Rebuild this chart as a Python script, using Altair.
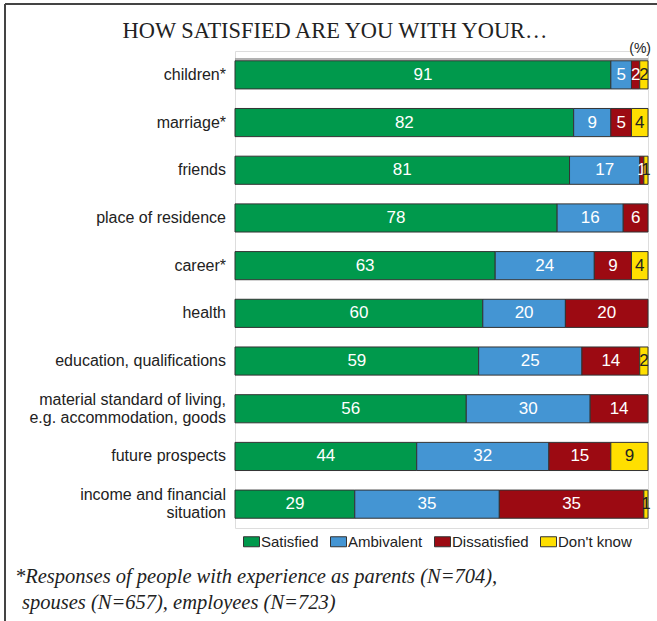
import altair as alt
import pandas as pd

items = [
    "children*",
    "marriage*",
    "friends",
    "place of residence",
    "career*",
    "health",
    "education, qualifications",
    "material standard of living,|e.g. accommodation, goods",
    "future prospects",
    "income and financial|situation",
]
satisfied = [91, 82, 81, 78, 63, 60, 59, 56, 44, 29]
ambivalent = [5, 9, 17, 16, 24, 20, 25, 30, 32, 35]
dissatisfied = [2, 5, 1, 6, 9, 20, 14, 14, 15, 35]
dont_know = [2, 4, 1, 0, 4, 0, 2, 0, 9, 1]

categories = ["Satisfied", "Ambivalent", "Dissatisfied", "Don't know"]
colors = ["#00994C", "#4495D3", "#9C0A12", "#FFDF00"]
title_text = "HOW SATISFIED ARE YOU WITH YOUR\u2026"
foot_line1 = "*Responses of people with experience as parents (N=704),"
foot_line2 = "spouses (N=657), employees (N=723)"

rows = []
for i, it in enumerate(items):
    start = 0
    for cat, vals in zip(categories, [satisfied, ambivalent, dissatisfied, dont_know]):
        v = vals[i]
        if v > 0:
            rows.append({"item": it, "cat": cat, "value": v, "x0": start,
                         "x1": start + v, "mid": start + v / 2,
                         "order": categories.index(cat)})
        start += v
df = pd.DataFrame(rows)
lab_df = pd.DataFrame({"item": items, "multi": ["|" in s for s in items]})

yscale = alt.Scale(paddingInner=0.41, paddingOuter=0.205, domain=items)
ysc = alt.Y("item:N", sort=items, title=None, scale=yscale, axis=None)
xsc = alt.X("x0:Q", scale=alt.Scale(domain=[0, 100]), axis=None)

square = "M-1,-0.625H1V0.625H-1Z"

bars = alt.Chart(df).mark_bar(stroke="#333", strokeWidth=1).encode(
    x=xsc, x2="x1:Q", y=ysc,
    color=alt.Color("cat:N", scale=alt.Scale(domain=categories, range=colors),
                    legend=alt.Legend(orient="none", legendX=8, legendY=482,
                                      direction="horizontal", title=None,
                                      symbolType=square, symbolSize=256,
                                      symbolStrokeColor="#333", symbolStrokeWidth=1,
                                      symbolOpacity=1,
                                      labelFont="Liberation Sans", labelFontSize=15,
                                      labelColor="#222", labelOffset=1,
                                      columnPadding=9)),
    order="order:Q",
)

labels = alt.Chart(df).mark_text(font="Liberation Sans", fontSize=17,
                                 baseline="middle", align="center").encode(
    x=alt.X("mid:Q", scale=alt.Scale(domain=[0, 100]), axis=None),
    y=alt.Y("item:N", sort=items, scale=yscale),
    text="value:Q",
    color=alt.condition(alt.datum.cat == "Don't know", alt.value("#222"), alt.value("white")),
)

ylab_single = alt.Chart(lab_df).transform_filter(~alt.datum.multi).mark_text(
    font="Liberation Sans", fontSize=16, align="right", baseline="middle",
    color="#222").encode(
    x=alt.value(-9), y=alt.Y("item:N", sort=items, scale=yscale), text="item:N")
ylab_multi = alt.Chart(lab_df).transform_filter(alt.datum.multi).mark_text(
    font="Liberation Sans", fontSize=16, align="right", baseline="middle",
    color="#222", lineBreak="|", lineHeight=18, dy=-9).encode(
    x=alt.value(-9), y=alt.Y("item:N", sort=items, scale=yscale), text="item:N")

one = alt.Data(values=[{}])
top_line = alt.Chart(one).mark_rule(color="#999", strokeWidth=1.5).encode(
    x=alt.value(0), x2=alt.value(413), y=alt.value(8))
frame_top = alt.Chart(one).mark_rule(color="#444", strokeWidth=2).encode(
    x=alt.value(-230), x2=alt.value(422), y=alt.value(-47))
frame_left = alt.Chart(one).mark_rule(color="#444", strokeWidth=2).encode(
    x=alt.value(-230), y=alt.value(-47), y2=alt.value(570))
title = alt.Chart(one).mark_text(font="Liberation Serif", fontSize=22.4, align="center",
                                 baseline="alphabetic", color="#222").encode(
    x=alt.value(100), y=alt.value(-13), text=alt.value(title_text))
pct = alt.Chart(one).mark_text(font="Liberation Sans", fontSize=14, align="right",
                               baseline="alphabetic", color="#222").encode(
    x=alt.value(416), y=alt.value(2), text=alt.value("(%)"))
foot1 = alt.Chart(one).mark_text(font="Liberation Serif", fontStyle="italic", fontSize=20.5,
                                 align="left", baseline="alphabetic", color="#222").encode(
    x=alt.value(-220), y=alt.value(532), text=alt.value(foot_line1))
foot2 = alt.Chart(one).mark_text(font="Liberation Serif", fontStyle="italic", fontSize=20.5,
                                 align="left", baseline="alphabetic", color="#222").encode(
    x=alt.value(-213), y=alt.value(558), text=alt.value(foot_line2))

chart = alt.layer(bars, labels, ylab_single, ylab_multi, top_line, frame_top,
                  frame_left, title, pct, foot1, foot2).properties(
    width=413, height=477,
    padding={"left": 235, "top": 51, "right": 9, "bottom": 93},
    autosize=alt.AutoSizeParams(type="none"),
).configure_view(stroke=None).configure(background="white")

chart.save("out.html", embed_options={"renderer": "svg", "actions": False})
